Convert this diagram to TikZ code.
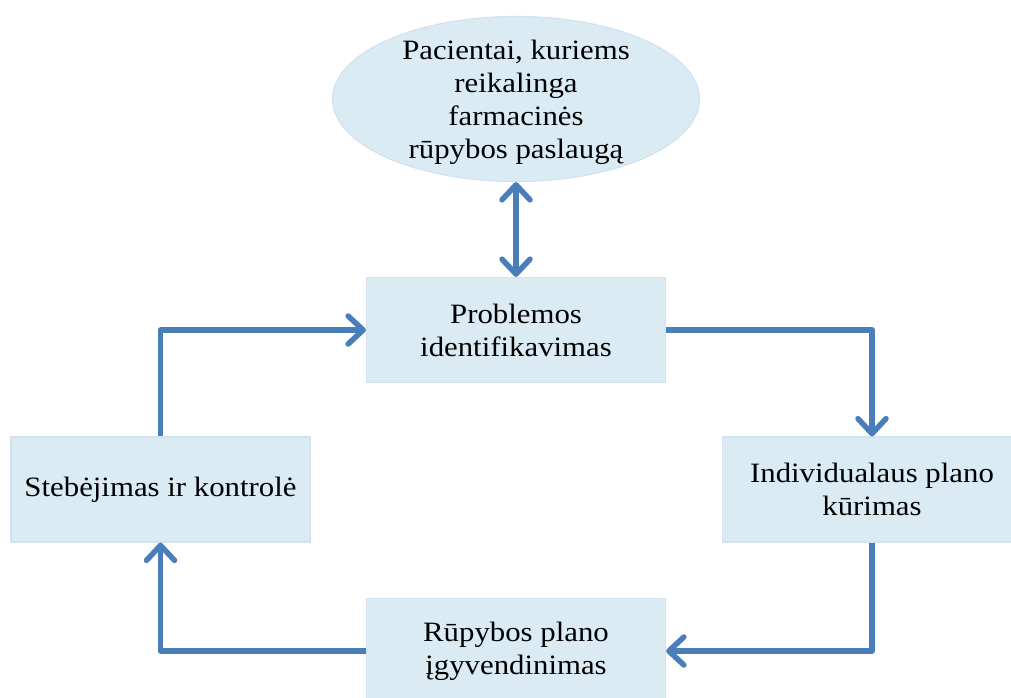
\documentclass[tikz,border=0pt]{standalone}
\usepackage{fontspec}
\setmainfont{Liberation Serif}[FakeStretch=1.1]
\usetikzlibrary{arrows.meta,shapes.geometric}
\definecolor{lineblue}{HTML}{4A7EBB}
\definecolor{boxfill}{HTML}{DBEBF4}
\definecolor{boxedge}{HTML}{D3E2F1}
\tikzset{barb/.tip={Straight Barb[length=15pt,width=28pt,line cap=round,line join=round]}}
\begin{document}
\begin{tikzpicture}[x=1pt,y=-1pt,
  every node/.style={font=\fontsize{28}{33}\selectfont, align=center, inner sep=0pt},
  stepbox/.style={rectangle, fill=boxfill, draw=boxedge, line width=1.2pt, minimum width=299pt, minimum height=105pt},
  oval/.style={ellipse, fill=boxfill, draw=boxedge, line width=1.2pt, minimum width=367pt, minimum height=165pt},
  conn/.style={draw=lineblue, line width=5.5pt, line join=round, -barb},
  conn2/.style={draw=lineblue, line width=5.5pt, line join=round, barb-barb}
]
\useasboundingbox (0,0) rectangle (1011,698);
\clip (0,0) rectangle (1011,698);
\node[oval] (ell) at (516,99) {};
\node (elltext) at (516,102) {Pacientai, kuriems\\reikalinga\\farmacinės\\rūpybos paslaugą};
\node[stepbox] (prob) at (516,330) {Problemos\\identifikavimas};
\node[stepbox] (left) at (160.5,489.5) {Stebėjimas ir kontrolė};
\node[stepbox] (right) at (872,489.5) {Individualaus plano\\kūrimas};
\node[stepbox] (bottom) at (516,651) {Rūpybos plano\\įgyvendinimas};
\draw[conn2] (ell.south) -- (prob.north);
\draw[conn] (prob.east) -| (right.north);
\draw[conn] (right.south) |- (bottom.east);
\draw[conn] (bottom.west) -| (left.south);
\draw[conn] (left.north) |- (prob.west);
\end{tikzpicture}
\end{document}
